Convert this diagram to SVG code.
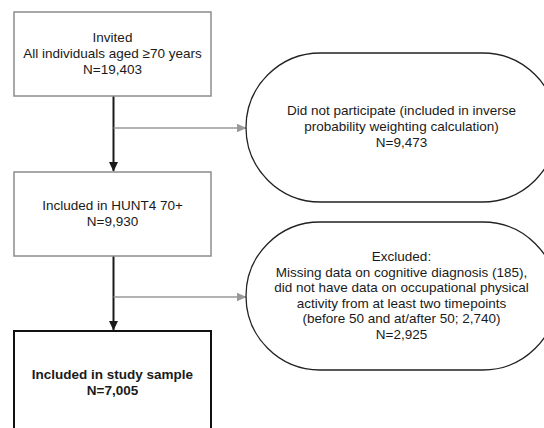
<svg xmlns="http://www.w3.org/2000/svg" width="544" height="428" viewBox="0 0 544 428">
<style>
text{font-family:"Liberation Sans",Arial,sans-serif;font-size:13.5px;fill:#1a1a1a;text-anchor:middle}
.b{font-weight:bold}
.box{fill:#fff;stroke:#8c8c8c;stroke-width:1.5}
.main{fill:#fff;stroke:#111;stroke-width:2}
.oval{fill:#fff;stroke:#222;stroke-width:1.3}
.down{stroke:#1a1a1a;stroke-width:2;fill:none}
.side{stroke:#999;stroke-width:1.6;fill:none}
</style>
<defs>
<marker id="ab" markerWidth="10" markerHeight="10" refX="9" refY="5" orient="auto" markerUnits="userSpaceOnUse" viewBox="0 0 10 10"><path d="M0,0.5 L9.5,5 L0,9.5 Z" fill="#1a1a1a"/></marker>
<marker id="ag" markerWidth="10" markerHeight="10" refX="9.5" refY="5" orient="auto" markerUnits="userSpaceOnUse" viewBox="0 0 10 10"><path d="M0,0.5 L10,5 L0,9.5 Z" fill="#999"/></marker>
</defs>
<rect width="544" height="428" fill="#fff"/>
<g id="connectors">
<line class="down" x1="113.5" y1="96" x2="113.5" y2="171" marker-end="url(#ab)"/>
<line class="side" x1="113.5" y1="128" x2="246" y2="128" marker-end="url(#ag)"/>
<line class="down" x1="113.5" y1="256" x2="113.5" y2="330" marker-end="url(#ab)"/>
<line class="side" x1="113.5" y1="297" x2="246" y2="297" marker-end="url(#ag)"/>
</g>
<g id="invited">
<rect class="box" x="14" y="12" width="197" height="84"/>
<text x="112.5" y="42">Invited</text>
<text x="112.5" y="58">All individuals aged ≥70 years</text>
<text x="112.5" y="74">N=19,403</text>
</g>
<g id="notparticipate">
<rect class="oval" x="246" y="53" width="311" height="149" rx="74.5" ry="74.5"/>
<text x="401.5" y="115">Did not participate (included in inverse</text>
<text x="401.5" y="131">probability weighting calculation)</text>
<text x="401.5" y="147">N=9,473</text>
</g>
<g id="hunt4">
<rect class="box" x="14" y="172" width="197" height="84"/>
<text x="112.5" y="210">Included in HUNT4 70+</text>
<text x="112.5" y="226">N=9,930</text>
</g>
<g id="excluded">
<rect class="oval" x="246" y="222" width="311" height="148" rx="74" ry="74"/>
<text x="401.5" y="261">Excluded:</text>
<text x="401.5" y="276.5">Missing data on cognitive diagnosis (185),</text>
<text x="401.5" y="292">did not have data on occupational physical</text>
<text x="401.5" y="307.5">activity from at least two timepoints</text>
<text x="401.5" y="323">(before 50 and at/after 50; 2,740)</text>
<text x="401.5" y="338.5">N=2,925</text>
</g>
<g id="studysample">
<rect class="main" x="14" y="331" width="197" height="120"/>
<text class="b" x="112.5" y="379">Included in study sample</text>
<text class="b" x="112.5" y="395">N=7,005</text>
</g>
</svg>
